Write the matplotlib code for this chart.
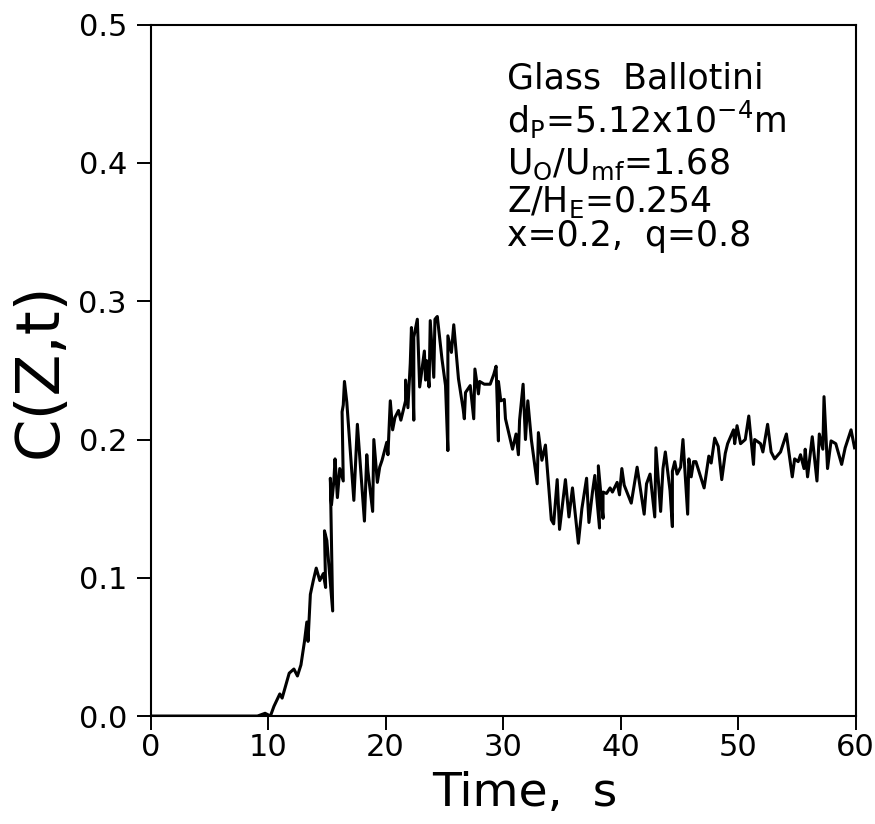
import matplotlib.pyplot as plt
import numpy as np

# Datos (tiempo en s, concentracion)
tiempo = [0.0, 7.4, 9.1, 9.75, 10.2, 10.5, 11.0, 11.2, 11.8, 12.2, 12.5, 12.8, 13.1, 13.3,
          13.4, 13.6, 13.85, 14.1, 14.4, 14.7, 14.9, 14.8, 15.0, 15.5, 15.3, 15.4, 15.6,
          15.7, 15.9, 16.1, 16.4, 16.3, 16.4, 16.5, 16.7, 17.3, 17.6, 18.2, 18.4, 18.5,
          18.9, 19.0, 19.3, 19.5, 19.7, 20.1, 20.2, 20.4, 20.6, 20.8, 21.1, 21.3, 21.7,
          21.7, 21.9, 22.1, 22.2, 22.4, 22.4, 22.7, 22.9, 23.3, 23.4, 23.5, 23.7, 23.8,
          24.1, 24.2, 24.4, 24.8, 25.1, 25.3, 25.3, 25.6, 25.8, 26.2, 26.6, 26.7, 26.8,
          27.2, 27.5, 27.6, 27.9, 28.0, 28.4, 28.9, 29.2, 29.4, 29.6, 29.6, 29.8, 30.1,
          30.2, 30.8, 31.1, 31.3, 31.4, 31.7, 31.9, 32.1, 32.4, 32.9, 33.0, 33.3, 33.6,
          34.1, 34.3, 34.6, 34.8, 35.3, 35.6, 35.9, 36.4, 36.7, 37.1, 37.3, 37.6, 37.8,
          38.2, 38.1, 38.5, 38.5, 38.8, 39.1, 39.3, 39.7, 39.9, 40.1, 40.3, 40.9, 41.4,
          42.0, 42.2, 42.5, 42.9, 43.0, 43.4, 43.6, 43.8, 44.2, 44.4, 44.4, 44.6, 44.8,
          45.1, 45.3, 45.7, 45.8, 46.0, 46.2, 46.4, 47.1, 47.5, 47.7, 48.0, 48.3, 48.6,
          48.9, 49.1, 49.6, 49.7, 49.9, 50.2, 50.6, 50.9, 51.3, 51.4, 51.9, 52.1, 52.5,
          52.8, 53.1, 53.6, 54.1, 54.6, 54.8, 55.1, 55.3, 55.6, 55.7, 55.9, 56.3, 56.7,
          56.9, 57.2, 57.3, 57.6, 57.9, 58.3, 58.8, 59.1, 59.6, 59.9]
conc = [0.0, 0.0, 0.0, 0.002, 0.0, 0.007, 0.016, 0.013, 0.031, 0.034, 0.029, 0.037, 0.054,
        0.068, 0.054, 0.088, 0.098, 0.107, 0.098, 0.103, 0.093, 0.134, 0.127, 0.076, 0.172,
        0.153, 0.170, 0.186, 0.158, 0.179, 0.170, 0.220, 0.225, 0.242, 0.227, 0.156, 0.211,
        0.141, 0.189, 0.177, 0.148, 0.200, 0.169, 0.180, 0.185, 0.198, 0.189, 0.228, 0.207,
        0.216, 0.221, 0.214, 0.228, 0.243, 0.223, 0.255, 0.281, 0.214, 0.274, 0.287, 0.238,
        0.264, 0.243, 0.257, 0.238, 0.286, 0.245, 0.287, 0.289, 0.258, 0.239, 0.192, 0.275,
        0.263, 0.283, 0.244, 0.222, 0.215, 0.234, 0.239, 0.215, 0.251, 0.233, 0.242, 0.240,
        0.240, 0.247, 0.253, 0.199, 0.242, 0.228, 0.229, 0.215, 0.193, 0.204, 0.189, 0.214,
        0.240, 0.200, 0.228, 0.200, 0.168, 0.205, 0.185, 0.196, 0.142, 0.139, 0.171, 0.135,
        0.171, 0.144, 0.165, 0.125, 0.150, 0.172, 0.140, 0.162, 0.174, 0.136, 0.181, 0.143,
        0.162, 0.161, 0.165, 0.162, 0.169, 0.160, 0.179, 0.167, 0.154, 0.180, 0.146, 0.168,
        0.175, 0.144, 0.194, 0.148, 0.179, 0.191, 0.163, 0.137, 0.177, 0.184, 0.175, 0.180,
        0.200, 0.146, 0.186, 0.173, 0.184, 0.184, 0.165, 0.188, 0.183, 0.201, 0.195, 0.171,
        0.190, 0.197, 0.207, 0.197, 0.210, 0.197, 0.200, 0.217, 0.182, 0.200, 0.197, 0.191,
        0.211, 0.191, 0.186, 0.191, 0.204, 0.173, 0.186, 0.184, 0.189, 0.179, 0.193, 0.173,
        0.202, 0.170, 0.204, 0.193, 0.231, 0.179, 0.199, 0.197, 0.182, 0.194, 0.207, 0.194]

xticks = [0, 10, 20, 30, 40, 50, 60]
yticks = [0.0, 0.1, 0.2, 0.3, 0.4, 0.5]

leyenda = ["Glass  Ballotini",
           r"d$_\mathrm{P}$=5.12x10$^{-4}$m",
           r"U$_\mathrm{O}$/U$_\mathrm{mf}$=1.68",
           r"Z/H$_\mathrm{E}$=0.254",
           "x=0.2,  q=0.8"]
leyenda_y = [0.461, 0.431, 0.399, 0.372, 0.347]

plt.rcParams['font.family'] = ['DejaVu Sans']
plt.rcParams['mathtext.default'] = 'regular'

fig = plt.figure(figsize=(8.75, 8.24), dpi=100)
ax = fig.add_axes([0.172, 0.131, 0.806, 0.839])

ax.plot(tiempo, conc, color='black', linewidth=2.2)

ax.set_xlim(0, 60)
ax.set_ylim(0, 0.5)
ax.set_xticks(xticks)
ax.set_yticks(yticks)
ax.set_yticklabels([f"{v:.1f}" for v in yticks])
ax.tick_params(axis='both', direction='out', length=10, width=1.4, labelsize=22)
ax.tick_params(axis='x', pad=2)
ax.tick_params(axis='y', pad=7)
for s in ax.spines.values():
    s.set_linewidth(1.5)

ax.set_xlabel("Time,  s", fontsize=34, labelpad=0)
ax.xaxis.set_label_coords(0.53, -0.08, transform=ax.transAxes)
ax.xaxis.label.set_va('top')
ax.set_ylabel("C(Z,t)", fontsize=44, labelpad=6)

for texto, yy in zip(leyenda, leyenda_y):
    ax.text(30.3, yy, texto, fontsize=25, va='center', ha='left')

fig.savefig("out.png", dpi=100)
